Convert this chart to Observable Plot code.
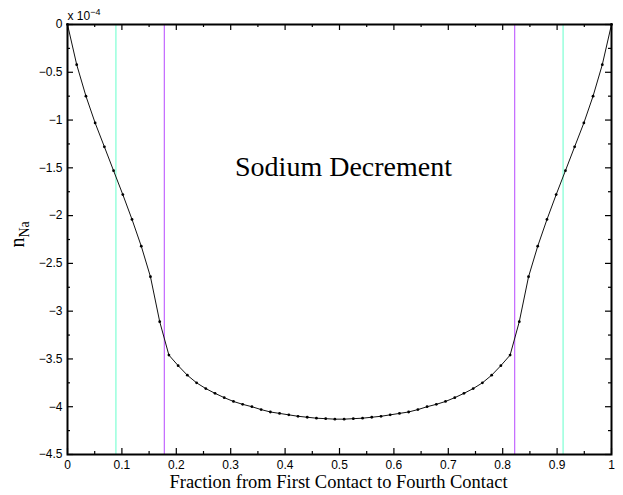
<!DOCTYPE html>
<html>
<head>
<meta charset="utf-8">
<script src="https://cdn.jsdelivr.net/npm/d3@7"></script>
<script src="https://cdn.jsdelivr.net/npm/@observablehq/plot@0.6"></script>
<style>
  html, body { margin: 0; padding: 0; background: #fff; }
  #chart { width: 623px; height: 495px; }
</style>
</head>
<body>
<div id="chart"></div>
<script>
// Fraction from first contact to fourth contact
const fraction = [0, 0.0169, 0.0339, 0.0508, 0.0678, 0.0847, 0.1017, 0.1186, 0.1356, 0.1525,
  0.1695, 0.1864, 0.2034, 0.2203, 0.2373, 0.2542, 0.2712, 0.2881, 0.3051, 0.3220,
  0.3390, 0.3559, 0.3729, 0.3898, 0.4068, 0.4237, 0.4407, 0.4576, 0.4746, 0.4915,
  0.5085, 0.5254, 0.5424, 0.5593, 0.5763, 0.5932, 0.6102, 0.6271, 0.6441, 0.6610,
  0.6780, 0.6949, 0.7119, 0.7288, 0.7458, 0.7627, 0.7797, 0.7966, 0.8136, 0.8305,
  0.8475, 0.8644, 0.8814, 0.8983, 0.9153, 0.9322, 0.9492, 0.9661, 0.9831, 1];
// Sodium decrement n_Na, in units of 1e-4
const nNa = [0, -0.42, -0.75, -1.03, -1.28, -1.53, -1.78, -2.04, -2.32, -2.64,
  -3.11, -3.46, -3.57, -3.67, -3.75, -3.81, -3.86, -3.905, -3.945, -3.975,
  -4.00, -4.03, -4.055, -4.07, -4.085, -4.10, -4.11, -4.12, -4.125, -4.13,
  -4.13, -4.125, -4.12, -4.11, -4.10, -4.085, -4.07, -4.055, -4.03, -4.00,
  -3.975, -3.945, -3.905, -3.86, -3.81, -3.75, -3.67, -3.57, -3.46, -3.11,
  -2.64, -2.32, -2.04, -1.78, -1.53, -1.28, -1.03, -0.75, -0.42, 0];
// Vertical contact markers
const cyanLines = [0.089, 0.911];
const magentaLines = [0.178, 0.822];
// Ticks
const xMajor = [0, 0.1, 0.2, 0.3, 0.4, 0.5, 0.6, 0.7, 0.8, 0.9, 1];
const xMinor = [0.05, 0.15, 0.25, 0.35, 0.45, 0.55, 0.65, 0.75, 0.85, 0.95];
const yMajor = [0, -0.5, -1, -1.5, -2, -2.5, -3, -3.5, -4, -4.5];
const yMinor = [-0.25, -0.75, -1.25, -1.75, -2.25, -2.75, -3.25, -3.75, -4.25];

const titleText = "Sodium Decrement";
const xLabel = "Fraction from First Contact to Fourth Contact";

const data = fraction.map((x, i) => ({x, y: nNa[i]}));

const W = 623, H = 495;
const mL = 67, mR = 12, mT = 24, mB = 41;
const innerW = W - mL - mR, innerH = H - mT - mB;
const fmt = d3.format("~g");
const sans = "'Liberation Sans', Arial, Helvetica, sans-serif";
const serif = "'Liberation Serif', 'Times New Roman', serif";

const plot = Plot.plot({
  width: W, height: H,
  marginLeft: mL, marginRight: mR, marginTop: mT, marginBottom: mB,
  x: {domain: [0, 1]},
  y: {domain: [-4.5, 0]},
  style: {background: "#fff", color: "#000", overflow: "visible"},
  marks: [
    Plot.ruleX(cyanLines, {x: d => d, stroke: "#7fffd4", strokeWidth: 1.2}),
    Plot.ruleX(magentaLines, {x: d => d, stroke: "#c266ff", strokeWidth: 1.2}),
    Plot.line(data, {x: "x", y: "y", stroke: "#111", strokeWidth: 1}),
    Plot.dot(data, {x: "x", y: "y", r: 1.4, fill: "#000", stroke: null}),
    // inward ticks, bottom and top
    Plot.ruleX(xMajor, {x: d => d, insetTop: innerH - 6, stroke: "#000", strokeWidth: 1.2}),
    Plot.ruleX(xMajor, {x: d => d, insetBottom: innerH - 6, stroke: "#000", strokeWidth: 1.2}),
    Plot.ruleX(xMinor, {x: d => d, insetTop: innerH - 3, stroke: "#000", strokeWidth: 1.2}),
    Plot.ruleX(xMinor, {x: d => d, insetBottom: innerH - 3, stroke: "#000", strokeWidth: 1.2}),
    // inward ticks, left and right
    Plot.ruleY(yMajor, {y: d => d, insetRight: innerW - 6, stroke: "#000", strokeWidth: 1.2}),
    Plot.ruleY(yMajor, {y: d => d, insetLeft: innerW - 6, stroke: "#000", strokeWidth: 1.2}),
    Plot.ruleY(yMinor, {y: d => d, insetRight: innerW - 3, stroke: "#000", strokeWidth: 1.2}),
    Plot.ruleY(yMinor, {y: d => d, insetLeft: innerW - 3, stroke: "#000", strokeWidth: 1.2}),
    Plot.frame({stroke: "#000", strokeWidth: 2}),
    Plot.axisX({ticks: xMajor, tickSize: 0, tickPadding: 6, tickFormat: fmt, fontSize: 12, fontFamily: sans, label: null}),
    Plot.axisY({ticks: yMajor, tickSize: 0, tickPadding: 5, tickFormat: fmt, fontSize: 12, fontFamily: sans, label: null}),
    Plot.text([titleText], {text: d => d, frameAnchor: "top", dx: 4, dy: 132, fontSize: 28, fontFamily: serif, fill: "#000"}),
    Plot.text([xLabel], {text: d => d, frameAnchor: "bottom", dx: -1, dy: 33, fontSize: 18.5, fontFamily: serif, fill: "#000"}),
    Plot.text(["n"], {text: d => d, frameAnchor: "left", dx: -50, dy: 8, rotate: -90, fontSize: 20, fontFamily: serif, fill: "#000", className: "ylab"}),
    Plot.text(["x 10"], {text: d => d, frameAnchor: "top-left", textAnchor: "start", lineAnchor: "bottom", dx: 0, dy: -5, fontSize: 12, fontFamily: sans, fill: "#000", className: "expo"})
  ]
});

// subscript / superscript as real text tspans
const ylab = plot.querySelector(".ylab text");
if (ylab) {
  const ts = document.createElementNS("http://www.w3.org/2000/svg", "tspan");
  ts.setAttribute("dy", "0.35em");
  ts.setAttribute("font-size", "14");
  ts.textContent = "Na";
  ylab.appendChild(ts);
}
const expo = plot.querySelector(".expo text");
if (expo) {
  const ts = document.createElementNS("http://www.w3.org/2000/svg", "tspan");
  ts.setAttribute("dy", "-0.5em");
  ts.setAttribute("font-size", "9");
  ts.textContent = "\u22124";
  expo.appendChild(ts);
}
document.getElementById("chart").appendChild(plot);
</script>
</body>
</html>
